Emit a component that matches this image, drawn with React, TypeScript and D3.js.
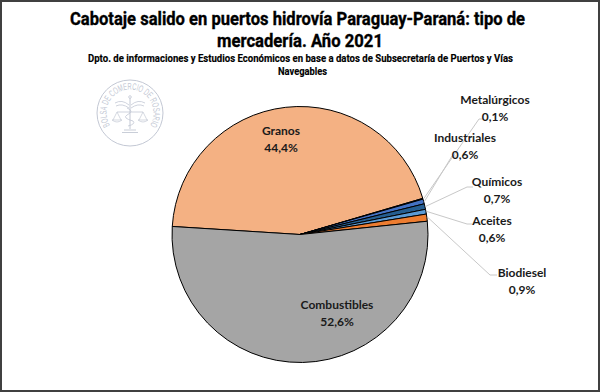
import React, { useRef, useEffect } from "react";
import * as d3 from "d3";

const categories = ["Granos", "Metalúrgicos", "Industriales", "Químicos", "Aceites", "Biodiesel", "Combustibles"];
const values = [44.4, 0.1, 0.6, 0.7, 0.6, 0.9, 52.6];
const percentLabels = ["44,4%", "0,1%", "0,6%", "0,7%", "0,6%", "0,9%", "52,6%"];
const colors = ["#F4B183", "#1F3864", "#4472C4", "#255E91", "#5B9BD5", "#ED7D31", "#A5A5A5"];

const titleLines = ["Cabotaje salido en puertos hidrovía Paraguay-Paraná: tipo de", "mercadería. Año 2021"];
const subtitleLines = ["Dpto. de informaciones y Estudios Económicos en base a datos de Subsecretaría de Puertos y Vías", "Navegables"];

// label layout: [textCenterX, nameBaselineY, leaderEndX, leaderEndY, leaderHorizEndX] (outside labels)
const outsideLayout: Record<string, number[]> = {
  "Metalúrgicos": [495, 104, 479, 119, 484],
  "Industriales": [465, 142, 452, 156, 456],
  "Químicos": [497, 186, 467, 187, 473],
  "Aceites": [492, 225, 467, 224, 472],
  "Biodiesel": [522, 277, 490, 275, 497],
};
const insideLayout: Record<string, number[]> = {
  Granos: [281, 135],
  Combustibles: [337, 309],
};

const W = 600, H = 392;
const cx = 300, cy = 234.5, R = 128;
const startDeg = 273.6;

export default function App() {
  const ref = useRef<SVGSVGElement>(null);
  useEffect(() => {
    const svg = d3.select(ref.current);
    svg.selectAll("*").remove();

    svg.append("rect").attr("x", 0).attr("y", 0).attr("width", W).attr("height", H).attr("fill", "#fff");

    // Title
    const title = svg.append("g").attr("font-family", "Roboto, sans-serif").attr("font-weight", "bold").attr("text-anchor", "middle").attr("fill", "#000").attr("stroke", "#000");
    title.append("text").attr("x", 297.5).attr("y", 25).attr("font-size", 17.5).attr("stroke-width", 0.35).attr("textLength", 455).attr("lengthAdjust", "spacingAndGlyphs").text(titleLines[0]);
    title.append("text").attr("x", 300).attr("y", 47).attr("font-size", 17.5).attr("stroke-width", 0.35).attr("textLength", 166).attr("lengthAdjust", "spacingAndGlyphs").text(titleLines[1]);
    title.append("text").attr("x", 300.5).attr("y", 62).attr("font-size", 10.5).attr("stroke-width", 0.15).attr("textLength", 425).attr("lengthAdjust", "spacingAndGlyphs").text(subtitleLines[0]);
    title.append("text").attr("x", 302.5).attr("y", 75).attr("font-size", 10.5).attr("stroke-width", 0.15).attr("textLength", 49).attr("lengthAdjust", "spacingAndGlyphs").text(subtitleLines[1]);

    // Watermark seal
    const sealColor = "#c3c8d4";
    const wm = svg.append("g").attr("transform", "translate(130,113)").attr("fill", "none").attr("stroke", sealColor);
    wm.append("circle").attr("r", 33).attr("stroke-width", 1);
    const rT = 23.5;
    const a0 = (-125 * Math.PI) / 180, a1 = (125 * Math.PI) / 180; // angles from 12 o'clock clockwise
    const arcPath = `M ${rT * Math.sin(a0)} ${-rT * Math.cos(a0)} A ${rT} ${rT} 0 1 1 ${rT * Math.sin(a1)} ${-rT * Math.cos(a1)}`;
    wm.append("path").attr("id", "sealArc").attr("d", arcPath).attr("stroke", "none");
    wm.append("text").attr("font-family", "'Liberation Sans', sans-serif").attr("font-size", 9.5).attr("fill", sealColor).attr("stroke", "none")
      .append("textPath").attr("href", "#sealArc").attr("startOffset", "50%").attr("text-anchor", "middle")
      .attr("textLength", 2 * Math.PI * rT * (250 / 360) - 3).attr("lengthAdjust", "spacingAndGlyphs").text("BOLSA DE COMERCIO DE ROSARIO");
    // caduceus + scales
    wm.append("line").attr("x1", 0).attr("y1", -15).attr("x2", 0).attr("y2", 16).attr("stroke-width", 1);
    wm.append("circle").attr("cy", -16).attr("r", 1.3).attr("stroke-width", 0.8);
    wm.append("path").attr("d", "M -15 -10 Q -8 -14 -1 -8 M 15 -10 Q 8 -14 1 -8 M -14 -7 Q -8 -10 -1 -5 M 14 -7 Q 8 -10 1 -5").attr("stroke-width", 0.8);
    wm.append("line").attr("x1", -13).attr("y1", -1).attr("x2", 13).attr("y2", -1).attr("stroke-width", 0.8);
    wm.append("path").attr("d", "M -13 -1 L -17 7 M -13 -1 L -9 7 M -18 7 Q -13 11 -8 7 Z M 13 -1 L 9 7 M 13 -1 L 17 7 M 8 7 Q 13 11 18 7 Z").attr("stroke-width", 0.7);
    wm.append("path").attr("d", "M -3 -5 Q 5 -2 -3 2 Q -8 5 3 8 Q 6 11 -2 13").attr("stroke-width", 0.8);
    wm.append("path").attr("d", "M -6 17 L 6 17 M -8 19.5 L 8 19.5").attr("stroke-width", 0.9);

    // Pie
    const data = categories.map((c, i) => ({ name: c, value: values[i], label: percentLabels[i], color: colors[i] }));
    const start = (startDeg * Math.PI) / 180;
    const pie = d3.pie<any>().sort(null).value((d) => d.value).startAngle(start).endAngle(start + 2 * Math.PI);
    const arcs = pie(data);
    const arc = d3.arc<any>().innerRadius(0).outerRadius(R);
    const g = svg.append("g").attr("transform", `translate(${cx},${cy})`);
    g.selectAll("path.slice").data(arcs).enter().append("path").attr("class", "slice")
      .attr("d", arc).attr("fill", (d: any) => d.data.color).attr("stroke", "#000").attr("stroke-width", 1).attr("stroke-linejoin", "round");

    // Leader lines
    arcs.forEach((a: any) => {
      const lay = outsideLayout[a.data.name];
      if (!lay) return;
      const mid = (a.startAngle + a.endAngle) / 2;
      const x0 = cx + (R + 1) * Math.sin(mid), y0 = cy - (R + 1) * Math.cos(mid);
      svg.append("polyline").attr("points", `${x0},${y0} ${lay[2]},${lay[3]} ${lay[4]},${lay[3]}`)
        .attr("fill", "none").attr("stroke", "#c8c8c8").attr("stroke-width", 1);
    });

    // Labels
    const lf = "Lato, 'Open Sans', sans-serif";
    arcs.forEach((a: any) => {
      const name = a.data.name;
      const pos = outsideLayout[name] || insideLayout[name];
      const t = svg.append("text").attr("font-family", lf).attr("font-weight", "bold").attr("font-size", 12).attr("fill", "#1a1a1a").attr("text-anchor", "middle");
      t.append("tspan").attr("x", pos[0]).attr("y", pos[1]).text(name);
      t.append("tspan").attr("x", pos[0]).attr("y", pos[1] + 16.5).text(a.data.label);
    });

    // Frame
    svg.append("rect").attr("x", 1).attr("y", 1).attr("width", W - 2).attr("height", H - 2).attr("fill", "none").attr("stroke", "#404040").attr("stroke-width", 2);
  }, []);
  return <svg ref={ref} width={W} height={H} style={{ position: "absolute", left: 0, top: 0 }} />;
}
